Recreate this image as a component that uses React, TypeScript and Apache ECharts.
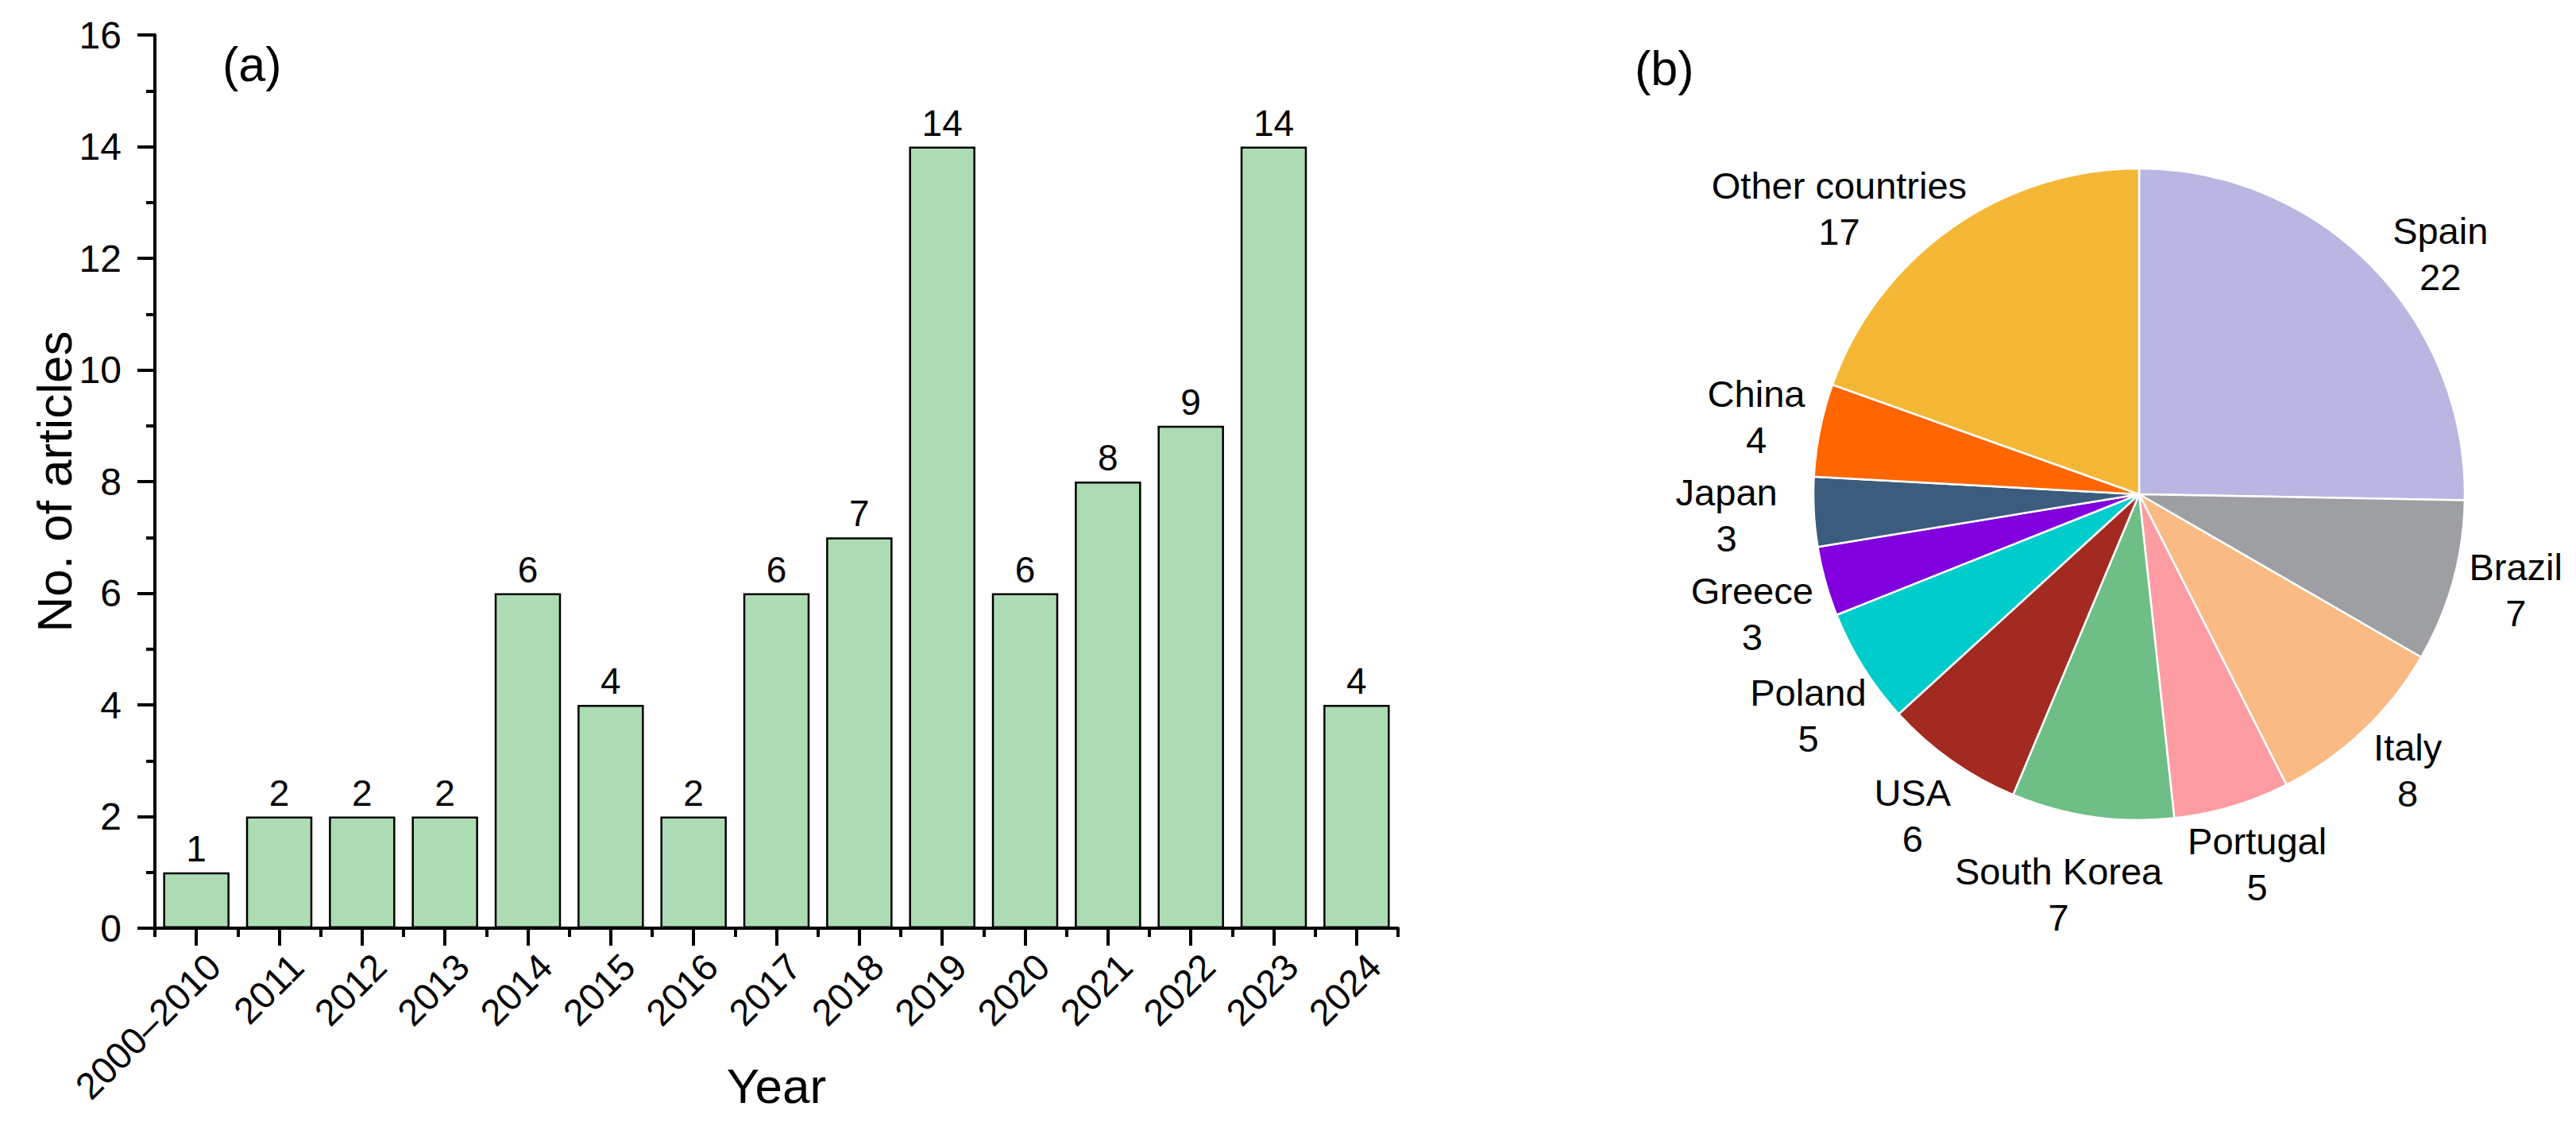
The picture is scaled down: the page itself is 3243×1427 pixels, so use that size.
import React, { useEffect, useRef } from "react";
import * as echarts from "echarts";

// ---- Data (a) ----
const yearCategories = [
  "2000–2010", "2011", "2012", "2013", "2014", "2015", "2016", "2017",
  "2018", "2019", "2020", "2021", "2022", "2023", "2024",
];
const articleCounts = [1, 2, 2, 2, 6, 4, 2, 6, 7, 14, 6, 8, 9, 14, 4];
const yTickMin = 0;
const yTickMax = 16;
const yTickStep = 2;

// ---- Data (b) ----
const countryNames = [
  "Spain", "Brazil", "Italy", "Portugal", "South Korea", "USA",
  "Poland", "Greece", "Japan", "China", "Other countries",
];
const countryValues = [22, 7, 8, 5, 7, 6, 5, 3, 3, 4, 17];
const countryColors = [
  "#B9B7E1", "#9D9FA3", "#F9BA84", "#FE9CA4", "#6EBE86", "#A32A21",
  "#00CCCC", "#8200DD", "#3C5C7E", "#FF6600", "#F4B836",
];

// label placement tweaks (pixels) for hand-placed labels in the original figure
const labelNudge: Record<string, [number, number]> = {
  Spain: [20, 50],
  Brazil: [0, -11],
  Italy: [0, -10],
  "Other countries": [-55, 98],
  Japan: [-33, 0],
  "South Korea": [-30, 12],
  Poland: [18, 6],
  Portugal: [6, -14],
  Greece: [4, 14],
};

const FONT = "'Liberation Sans', Arial, Helvetica, sans-serif";
const PIE_CX = 2693;
const PIE_CY = 622;
const PIE_R = 410;
const LABEL_GAP = 10;

export default function App() {
  const ref = useRef<HTMLDivElement>(null);

  useEffect(() => {
    document.body.style.margin = "0";
    if (!ref.current) return;
    const chart = echarts.init(ref.current, null, { renderer: "svg" });

    const total = countryValues.reduce((a, b) => a + b, 0);
    const cum: number[] = [];
    let acc = 0;
    countryValues.forEach((v) => {
      cum.push(acc);
      acc += v;
    });

    const option: any = {
      animation: false,
      backgroundColor: "#ffffff",
      textStyle: { fontFamily: FONT, color: "#000" },
      grid: {
        left: 195,
        right: 1483,
        top: 44,
        bottom: 259,
        containLabel: false,
        outerBoundsMode: "none",
      },
      xAxis: [
        {
          type: "category",
          data: yearCategories,
          position: "bottom",
          name: "Year",
          nameLocation: "middle",
          nameGap: 167,
          nameMoveOverlap: false,
          nameTextStyle: { fontSize: 62, color: "#000", fontFamily: FONT },
          axisLine: { show: true, lineStyle: { color: "#000", width: 4 } },
          axisTick: { show: true, alignWithLabel: true, length: 22, lineStyle: { color: "#000", width: 4 } },
          axisLabel: {
            show: true,
            rotate: 45,
            interval: 0,
            margin: 18,
            verticalAlign: "top",
            padding: [8, 0, 0, 0],
            fontSize: 47,
            color: "#000",
            fontFamily: FONT,
          },
          splitLine: { show: false },
        },
        {
          type: "category",
          data: yearCategories,
          position: "bottom",
          axisLine: { show: false },
          axisTick: { show: true, alignWithLabel: false, length: 11, lineStyle: { color: "#000", width: 4 } },
          axisLabel: { show: false },
          splitLine: { show: false },
        },
      ],
      yAxis: {
        type: "value",
        min: yTickMin,
        max: yTickMax,
        interval: yTickStep,
        name: "No. of articles",
        nameLocation: "middle",
        nameGap: 96,
        nameMoveOverlap: false,
        nameTextStyle: { fontSize: 62, color: "#000", fontFamily: FONT },
        axisLine: { show: true, lineStyle: { color: "#000", width: 4 } },
        axisTick: { show: true, inside: false, length: 22, lineStyle: { color: "#000", width: 4 } },
        minorTick: { show: true, splitNumber: 2, length: 11, lineStyle: { color: "#000", width: 4 } },
        axisLabel: { margin: 42, fontSize: 48, color: "#000", fontFamily: FONT },
        splitLine: { show: false },
        minorSplitLine: { show: false },
      },
      series: [
        {
          type: "bar",
          xAxisIndex: 0,
          yAxisIndex: 0,
          data: articleCounts,
          barWidth: "80%",
          itemStyle: { color: "#ADDCB4", borderColor: "#000", borderWidth: 2.5 },
          label: {
            show: true,
            position: "top",
            distance: 7,
            fontSize: 46,
            color: "#000",
            fontFamily: FONT,
          },
        },
        {
          type: "pie",
          center: [PIE_CX, PIE_CY],
          radius: [0, PIE_R],
          startAngle: 90,
          clockwise: true,
          avoidLabelOverlap: false,
          data: countryNames.map((n, i) => ({
            name: n,
            value: countryValues[i],
            itemStyle: { color: countryColors[i] },
          })),
          itemStyle: { borderColor: "#ffffff", borderWidth: 2.5 },
          label: {
            show: true,
            position: "outside",
            formatter: "{b}\n{c}",
            fontSize: 47,
            lineHeight: 58,
            color: "#000",
            fontFamily: FONT,
          },
          labelLine: { show: false },
          labelLayout: (params: any) => {
            const i = params.dataIndex;
            const a = ((cum[i] + countryValues[i] / 2) / total) * 2 * Math.PI;
            const ux = Math.sin(a);
            const uy = -Math.cos(a);
            const w = params.labelRect.width;
            const h = params.labelRect.height;
            const t = PIE_R + LABEL_GAP + (w / 2) * Math.abs(ux) + (h / 2) * Math.abs(uy);
            const nudge = labelNudge[countryNames[i]] || [0, 0];
            return {
              x: PIE_CX + t * ux + nudge[0],
              y: PIE_CY + t * uy + nudge[1],
              align: "center",
              verticalAlign: "middle",
            };
          },
        },
      ],
      graphic: [
        {
          type: "text",
          left: 280,
          top: 50,
          style: { text: "(a)", fontSize: 61, fill: "#000", fontFamily: FONT },
        },
        {
          type: "text",
          left: 2058,
          top: 55,
          style: { text: "(b)", fontSize: 61, fill: "#000", fontFamily: FONT },
        },
      ],
    };

    chart.setOption(option);
    return () => chart.dispose();
  }, []);

  return <div ref={ref} style={{ width: 3243, height: 1427 }} />;
}
